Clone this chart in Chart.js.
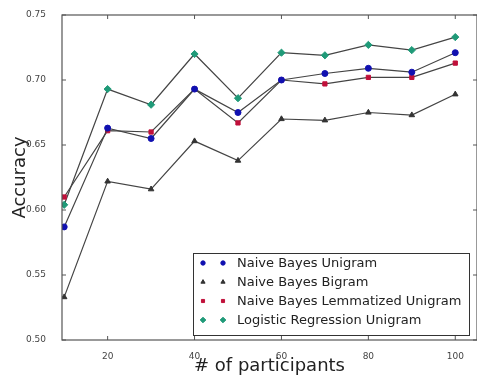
<!DOCTYPE html>
<html>
<head>
<meta charset="utf-8">
<script src="https://cdn.jsdelivr.net/npm/chart.js@4/dist/chart.umd.min.js"></script>
<style>
  html, body { margin: 0; padding: 0; background: #fff; }
  #wrap { width: 477px; height: 377px; }
</style>
</head>
<body>
<div id="wrap"><canvas id="chart" width="477" height="377"></canvas></div>
<script>
// participants on the x axis
const participants = [10, 20, 30, 40, 50, 60, 70, 80, 90, 100];

// accuracy per classifier
const nbUnigram = [0.587, 0.663, 0.655, 0.693, 0.675, 0.700, 0.705, 0.709, 0.706, 0.721];
const nbBigram = [0.533, 0.622, 0.616, 0.653, 0.638, 0.670, 0.669, 0.675, 0.673, 0.689];
const nbLemmaUnigram = [0.610, 0.661, 0.660, 0.693, 0.667, 0.700, 0.697, 0.702, 0.702, 0.713];
const lrUnigram = [0.604, 0.693, 0.681, 0.720, 0.686, 0.721, 0.719, 0.727, 0.723, 0.733];

const xTicks = [20, 40, 60, 80, 100];

const seriesLabels = [
  'Naive Bayes Unigram',
  'Naive Bayes Bigram',
  'Naive Bayes Lemmatized Unigram',
  'Logistic Regression Unigram',
];
const seriesValues = [nbUnigram, nbBigram, nbLemmaUnigram, lrUnigram];
const markerColors = ['#1010b0', '#333333', '#c0103a', '#1f9a78'];
const markerStyles = ['circle', 'triangle', 'rect', 'rectRot'];
const markerSizes = [3, 3.2, 3, 3.6];

const font = 'DejaVu Sans';

function toPoints(values) {
  return values.map((v, i) => ({ x: participants[i], y: v }));
}

// frame + inward ticks like matplotlib
const framePlugin = {
  id: 'frame',
  afterDraw(chart) {
    const { ctx, chartArea: a, scales } = chart;
    ctx.save();
    ctx.strokeStyle = '#555';
    ctx.lineWidth = 1.2;
    ctx.strokeRect(a.left, a.top, a.right - a.left, a.bottom - a.top);
    ctx.lineWidth = 1;
    ctx.beginPath();
    scales.x.ticks.forEach((t) => {
      const px = scales.x.getPixelForValue(t.value);
      ctx.moveTo(px, a.bottom); ctx.lineTo(px, a.bottom - 4);
      ctx.moveTo(px, a.top); ctx.lineTo(px, a.top + 4);
    });
    scales.y.ticks.forEach((t) => {
      const py = scales.y.getPixelForValue(t.value);
      ctx.moveTo(a.left, py); ctx.lineTo(a.left + 4, py);
      ctx.moveTo(a.right, py); ctx.lineTo(a.right - 4, py);
    });
    ctx.stroke();
    ctx.restore();
  },
};

// legend box with two markers per entry
const legendPlugin = {
  id: 'boxLegend',
  afterDraw(chart) {
    const { ctx } = chart;
    const box = { x: 193, y: 253, w: 276, h: 82 };
    ctx.save();
    ctx.fillStyle = '#fff';
    ctx.fillRect(box.x, box.y, box.w, box.h);
    ctx.strokeStyle = '#333';
    ctx.lineWidth = 1;
    ctx.strokeRect(box.x + 0.5, box.y + 0.5, box.w, box.h);
    ctx.font = `13px "${font}"`;
    ctx.textBaseline = 'middle';
    seriesLabels.forEach((label, i) => {
      const y = 263 + i * 19;
      [203, 223].forEach((x) => {
        ctx.fillStyle = markerColors[i];
        ctx.strokeStyle = markerColors[i];
        Chart.helpers.drawPoint(ctx, {
          pointStyle: markerStyles[i],
          radius: markerSizes[i] - 0.8,
          rotation: 0,
          borderWidth: 1,
        }, x, y);
      });
      ctx.fillStyle = '#222';
      ctx.fillText(label, 237, y + 1);
    });
    ctx.restore();
  },
};

new Chart(document.getElementById('chart'), {
  type: 'line',
  data: {
    datasets: seriesLabels.map((label, i) => ({
      label,
      data: toPoints(seriesValues[i]),
      borderColor: '#444',
      borderWidth: 1.2,
      backgroundColor: markerColors[i],
      pointBackgroundColor: markerColors[i],
      pointBorderColor: markerColors[i],
      pointBorderWidth: 1,
      pointStyle: markerStyles[i],
      pointRadius: markerSizes[i],
      tension: 0,
      fill: false,
    })),
  },
  options: {
    responsive: false,
    animation: false,
    layout: { autoPadding: false, padding: { top: 15, right: 0, left: 0, bottom: 0 } },
    plugins: {
      legend: { display: false },
      tooltip: { enabled: false },
    },
    scales: {
      x: {
        type: 'linear',
        min: 9.5,
        max: 105,
        grid: { display: false },
        border: { display: false },
        afterFit: (s) => {
          s.height = 37;
          s.paddingLeft = 0;
          s.paddingRight = 0;
        },
        afterBuildTicks: (s) => {
          s.ticks = xTicks.map((v) => ({ value: v }));
        },
        ticks: {
          color: '#444',
          padding: 3,
          font: { family: font, size: 9 },
        },
        title: {
          display: true,
          text: '# of participants',
          color: '#222',
          padding: { top: 0, bottom: 0 },
          font: { family: font, size: 18 },
        },
      },
      y: {
        type: 'linear',
        min: 0.5,
        max: 0.75,
        grid: { display: false },
        border: { display: false },
        afterFit: (s) => { s.width = 62; },
        ticks: {
          stepSize: 0.05,
          color: '#444',
          padding: 8,
          font: { family: font, size: 9 },
          callback: (v) => v.toFixed(2),
        },
        title: {
          display: true,
          text: 'Accuracy',
          color: '#222',
          padding: { top: 10, bottom: 0 },
          font: { family: font, size: 18 },
        },
      },
    },
  },
  plugins: [framePlugin, legendPlugin],
});
</script>
</body>
</html>
